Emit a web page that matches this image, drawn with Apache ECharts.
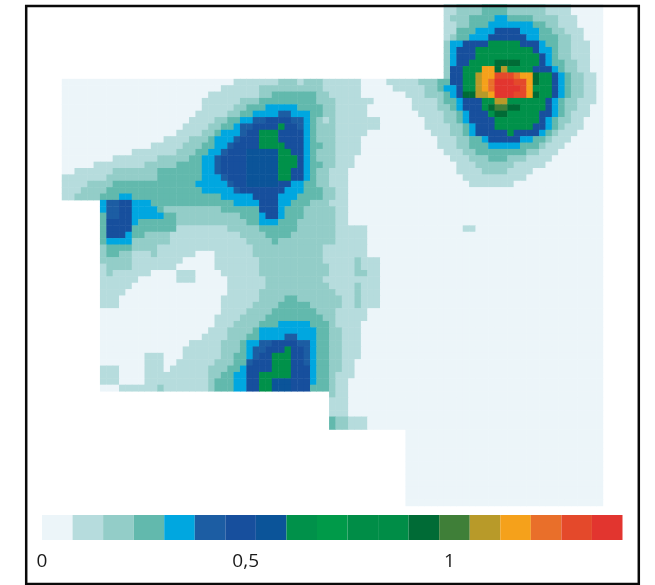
<!DOCTYPE html>
<html>
<head>
<meta charset="utf-8">
<style>html,body{margin:0;padding:0;background:#fff}#c{width:655px;height:585px}</style>
<script src="https://cdn.jsdelivr.net/npm/echarts@6/dist/echarts.min.js"></script>
</head>
<body>
<div id="c"></div>
<script>
// Colour class of each cell. Each row lists "start column, class" pairs.
var rowRuns = [
"60 2 62 3 66 4 70 3 76 2 80 1",
"60 2 62 3 66 4 70 3 76 2 80 1",
"60 2 61 3 64 4 68 5 70 4 74 3 78 2 81 1",
"60 2 62 3 64 4 67 5 74 4 76 3 78 2 81 1",
"60 2 62 4 65 5 68 7 72 5 75 4 77 3 79 2 82 1",
"60 2 61 3 62 4 64 5 67 7 73 5 75 4 78 3 80 2 82 1",
"60 3 61 5 63 7 67 9 72 7 75 5 76 4 78 3 80 2 83 1",
"60 3 61 5 62 7 65 9 74 7 75 5 77 4 78 3 80 2 83 1",
"60 3 61 5 62 7 65 9 75 7 76 5 77 4 78 3 80 2 83 1",
"60 3 61 5 62 7 64 9 68 13 72 9 75 7 76 5 77 4 79 3 81 2 83 1",
"60 3 61 7 63 9 66 16 68 13 69 15 70 9 74 7 77 5 78 4 79 3 81 2 83 1",
"60 3 61 7 63 9 65 15 66 16 68 18 71 17 72 16 74 13 75 9 77 7 78 5 79 4 80 3 82 2 84 1",
"0 1 27 2 34 3 37 2 38 3 41 2 47 1 51 2 56 3 59 4 61 7 63 9 65 15 66 16 67 17 68 19 71 18 73 16 74 13 75 9 77 7 78 5 79 4 80 3 82 2 84 1",
"0 1 25 2 31 3 41 2 47 1 52 2 57 3 59 4 60 5 62 7 63 9 65 15 66 16 67 17 68 19 72 18 73 16 74 9 77 7 78 5 79 4 80 3 82 2 84 1",
"0 1 23 2 31 3 33 4 40 3 42 2 47 1 54 2 57 3 60 4 61 5 62 7 63 13 65 15 67 16 68 19 71 18 73 16 74 13 75 9 77 7 78 5 79 4 80 3 82 2 84 1",
"0 1 22 2 28 3 31 4 40 3 43 2 49 1 55 2 59 3 60 4 62 5 63 7 66 9 68 15 70 9 76 7 77 5 78 4 79 3 81 2 84 1",
"0 1 22 2 27 3 29 4 32 5 37 4 41 3 43 2 48 1 55 2 59 3 61 4 62 5 63 7 66 9 67 13 68 14 70 13 72 9 76 7 77 5 78 4 79 3 81 2 83 1",
"0 1 21 2 26 3 28 4 30 5 34 6 36 5 39 4 41 3 43 2 48 1 56 2 60 3 62 4 63 5 64 7 67 9 68 13 70 9 75 7 77 5 78 4 79 3 80 2 83 1",
"0 1 20 2 24 3 26 4 28 5 30 6 32 7 36 6 38 5 39 4 40 3 41 2 42 3 43 2 50 1 57 2 60 3 62 4 63 5 64 7 68 9 75 7 76 5 77 4 78 3 80 2 82 1",
"0 1 19 2 23 3 25 4 27 5 28 6 30 7 34 9 35 7 37 6 38 5 39 4 40 3 43 2 50 1 57 2 61 3 63 4 64 5 65 7 68 9 74 7 76 5 77 4 78 3 79 2 82 1",
"0 1 18 2 22 3 24 4 25 5 28 6 29 7 31 9 34 7 38 5 39 4 40 3 43 2 48 1 58 2 61 3 63 4 64 5 65 7 70 9 71 7 75 5 76 4 77 3 78 2 81 1",
"0 1 16 2 20 3 23 4 24 5 27 6 28 7 31 9 34 7 38 5 39 4 40 3 43 2 47 1 59 2 62 3 64 4 66 5 67 7 72 5 74 4 76 3 77 2 80 1",
"0 1 14 2 19 3 22 4 24 5 26 6 27 7 31 9 35 7 38 5 39 4 41 3 43 2 47 1 59 2 62 3 64 4 67 5 72 4 75 3 76 2 79 1",
"0 1 11 2 18 3 21 4 23 5 25 6 26 7 29 8 34 9 36 7 38 5 39 4 40 3 43 2 47 1 60 2 63 3 65 4 73 3 75 2 78 1",
"0 1 8 2 15 3 20 4 22 5 24 6 25 7 29 8 34 9 37 7 38 5 39 4 40 3 43 2 46 1 61 2 64 3 67 4 70 3 73 2 77 1",
"0 1 5 2 13 3 18 4 22 5 24 6 25 7 29 8 34 9 37 7 38 5 39 4 41 3 43 2 46 1 62 2 65 3 71 2 76 1",
"0 1 2 2 8 3 15 4 22 5 24 6 25 7 29 8 34 9 36 7 38 5 39 4 40 3 42 2 45 1 62 2 66 3 70 2 74 1",
"0 2 7 3 15 4 22 5 25 6 26 7 29 8 34 9 36 7 38 5 39 4 40 3 42 2 45 1 63 2 73 1",
"0 2 4 3 8 4 21 5 26 6 27 7 29 8 34 7 36 5 38 4 40 3 42 2 45 1 64 2 71 1",
"0 2 3 3 7 4 22 5 27 6 28 7 35 5 38 4 41 3 43 2 45 1",
"0 2 2 3 6 4 9 5 11 4 25 5 30 7 34 5 37 4 41 3 43 2 45 1",
"6 5 7 6 9 7 11 5 14 4 27 5 31 7 34 5 36 4 39 3 42 2 45 1",
"6 5 7 6 9 7 11 5 15 4 16 3 25 4 31 7 34 5 35 4 38 3 43 2 45 1",
"6 4 7 6 9 7 11 5 16 4 18 3 28 4 31 5 32 7 34 5 35 4 38 3 43 2 45 1",
"6 4 7 7 11 5 12 4 18 3 29 4 31 5 34 4 37 3 43 2 45 1",
"6 4 7 7 11 4 18 2 26 3 31 4 37 3 43 2 48 1 63 2 65 1",
"6 4 7 7 10 5 11 4 13 3 17 2 28 3 32 4 36 3 43 2 48 1",
"6 4 7 5 11 3 17 2 29 3 33 4 34 3 43 2 48 1",
"6 3 7 4 11 3 15 2 30 3 41 2 48 1",
"6 3 7 4 9 3 11 2 14 3 15 2 21 1 24 2 30 3 41 2 48 1",
"6 3 11 2 19 1 24 2 31 3 41 2 46 3 47 2 50 1",
"6 2 7 3 11 2 18 1 24 2 31 3 42 2 46 3 47 2 50 1",
"6 2 7 3 8 2 14 1 18 2 21 1 25 2 31 3 42 2 46 3 48 2 50 1",
"6 2 12 1 18 2 21 1 26 2 32 3 41 2 50 1",
"6 2 11 1 26 2 32 3 42 2 46 3 47 2 50 1",
"6 2 10 1 26 2 31 3 43 2 46 3 47 2 50 1",
"6 2 9 1 25 2 31 3 35 4 37 3 44 2 46 3 47 2 50 1",
"6 2 9 1 25 2 30 3 34 4 39 3 44 2 46 3 47 2 50 1",
"6 1 25 2 29 3 33 4 40 3 43 2 48 1",
"6 1 24 2 28 3 32 4 41 3 43 2 48 1",
"6 1 24 2 27 3 31 4 34 5 39 4 42 3 43 2 47 1",
"6 1 23 2 26 3 30 4 31 5 40 4 42 3 44 2 47 1",
"6 1 22 2 26 3 29 4 31 5 35 6 37 5 40 4 42 3 44 2 47 1",
"6 1 20 2 25 3 28 4 29 5 31 6 33 7 37 6 39 5 40 4 42 3 44 2 47 1",
"6 1 19 2 25 3 28 4 29 5 30 6 32 7 35 9 36 7 38 6 39 5 40 4 42 3 44 2 47 1",
"6 1 13 2 16 1 19 2 25 3 27 4 29 5 30 6 31 7 33 9 36 7 38 6 39 5 40 4 42 3 44 2 47 1",
"6 1 13 2 16 1 18 2 24 3 27 4 29 6 30 7 33 9 36 7 38 6 39 5 40 4 42 3 44 2 46 1",
"6 2 9 1 13 2 16 1 17 2 23 3 26 4 28 5 29 7 33 9 36 7 39 5 40 4 42 3 44 2 46 1",
"6 2 9 1 13 2 23 3 25 4 27 5 29 7 31 9 36 7 39 5 40 4 42 3 43 2 46 1",
"6 2 9 1 13 2 23 3 24 4 27 5 29 7 31 9 33 8 36 7 39 5 40 4 42 3 43 2 45 1",
"6 1 9 2 15 3 16 2 23 3 24 4 27 5 29 7 31 9 33 8 36 7 39 4 42 3 43 2 45 1",
"42 3 43 2 45 1",
"42 2 45 1",
"42 2 45 1",
"42 2 45 1",
"42 4 43 3 45 2 48 1",
"42 4 43 3 45 2 48 1",
"54 1","54 1","54 1","54 1","54 1","54 1","54 1","54 1","54 1","54 1","54 1","54 1"
];
var columnCount = 85;
var levelColors = ["#ecf5f9","#b6dcdd","#93cdc8","#62b9ad","#00a7e0","#1c5da3","#174f9d","#0b5499","#00914a","#009a49","#008d47","#008d47","#006b36","#3f7f38","#b89a29","#f5a11b","#e96f2a","#e4492b","#e2352f"];
var levelWidth = 0.075;
var tickValues = [0, 0.5, 1];

var cols = [], rows = [], cells = [];
for (var c = 0; c < columnCount; c++) cols.push(c);
rowRuns.forEach(function (s, r) {
  rows.push(r);
  var p = s.split(" ").map(Number);
  for (var i = 0; i < p.length; i += 2) {
    var end = i + 2 < p.length ? p[i + 2] : columnCount;
    for (var k = p[i]; k < end; k++) cells.push([k, r, p[i + 1]]);
  }
});

var series = [{
  type: "heatmap", xAxisIndex: 0, yAxisIndex: 0, data: cells,
  progressive: 0, animation: false, silent: true, emphasis: {disabled: true}
}];
levelColors.forEach(function (col) {
  series.push({
    type: "bar", xAxisIndex: 1, yAxisIndex: 1, stack: "scale", barWidth: "100%",
    data: [levelWidth], itemStyle: {color: col}, silent: true, animation: false
  });
});

var chart = echarts.init(document.getElementById("c"), null, {renderer: "canvas"});
chart.setOption({
  backgroundColor: "#fff",
  animation: false,
  grid: [
    {left: 62, top: 2.6, width: 541, height: 503.4},
    {left: 42, top: 515, width: 580.5, height: 25}
  ],
  xAxis: [
    {type: "category", data: cols, show: false},
    {type: "value", gridIndex: 1, min: 0, max: levelColors.length * levelWidth,
     splitLine: {show: false}, axisLine: {show: false}, axisTick: {show: false},
     axisLabel: {customValues: tickValues, color: "#1a1a1a", fontFamily: "Open Sans", fontSize: 19, margin: 12,
       formatter: function (v) { return String(v).replace(".", ","); }}}
  ],
  yAxis: [
    {type: "category", data: rows, inverse: true, show: false},
    {type: "category", gridIndex: 1, data: ["scale"], show: false}
  ],
  visualMap: {
    show: false, type: "piecewise", seriesIndex: 0, dimension: 2,
    pieces: levelColors.map(function (col, i) { return {value: i + 1, color: col}; })
  },
  graphic: [
    {type: "rect", z: 100, silent: true, shape: {x: 0, y: 0, width: 655, height: 4}, style: {fill: "#fff"}},
    {type: "rect", z: 101, silent: true, shape: {x: 26.2, y: 6, width: 612.6, height: 578}, style: {fill: "none", stroke: "#0a0a0a", lineWidth: 2.5}}
  ],
  series: series
});
</script>
</body>
</html>
